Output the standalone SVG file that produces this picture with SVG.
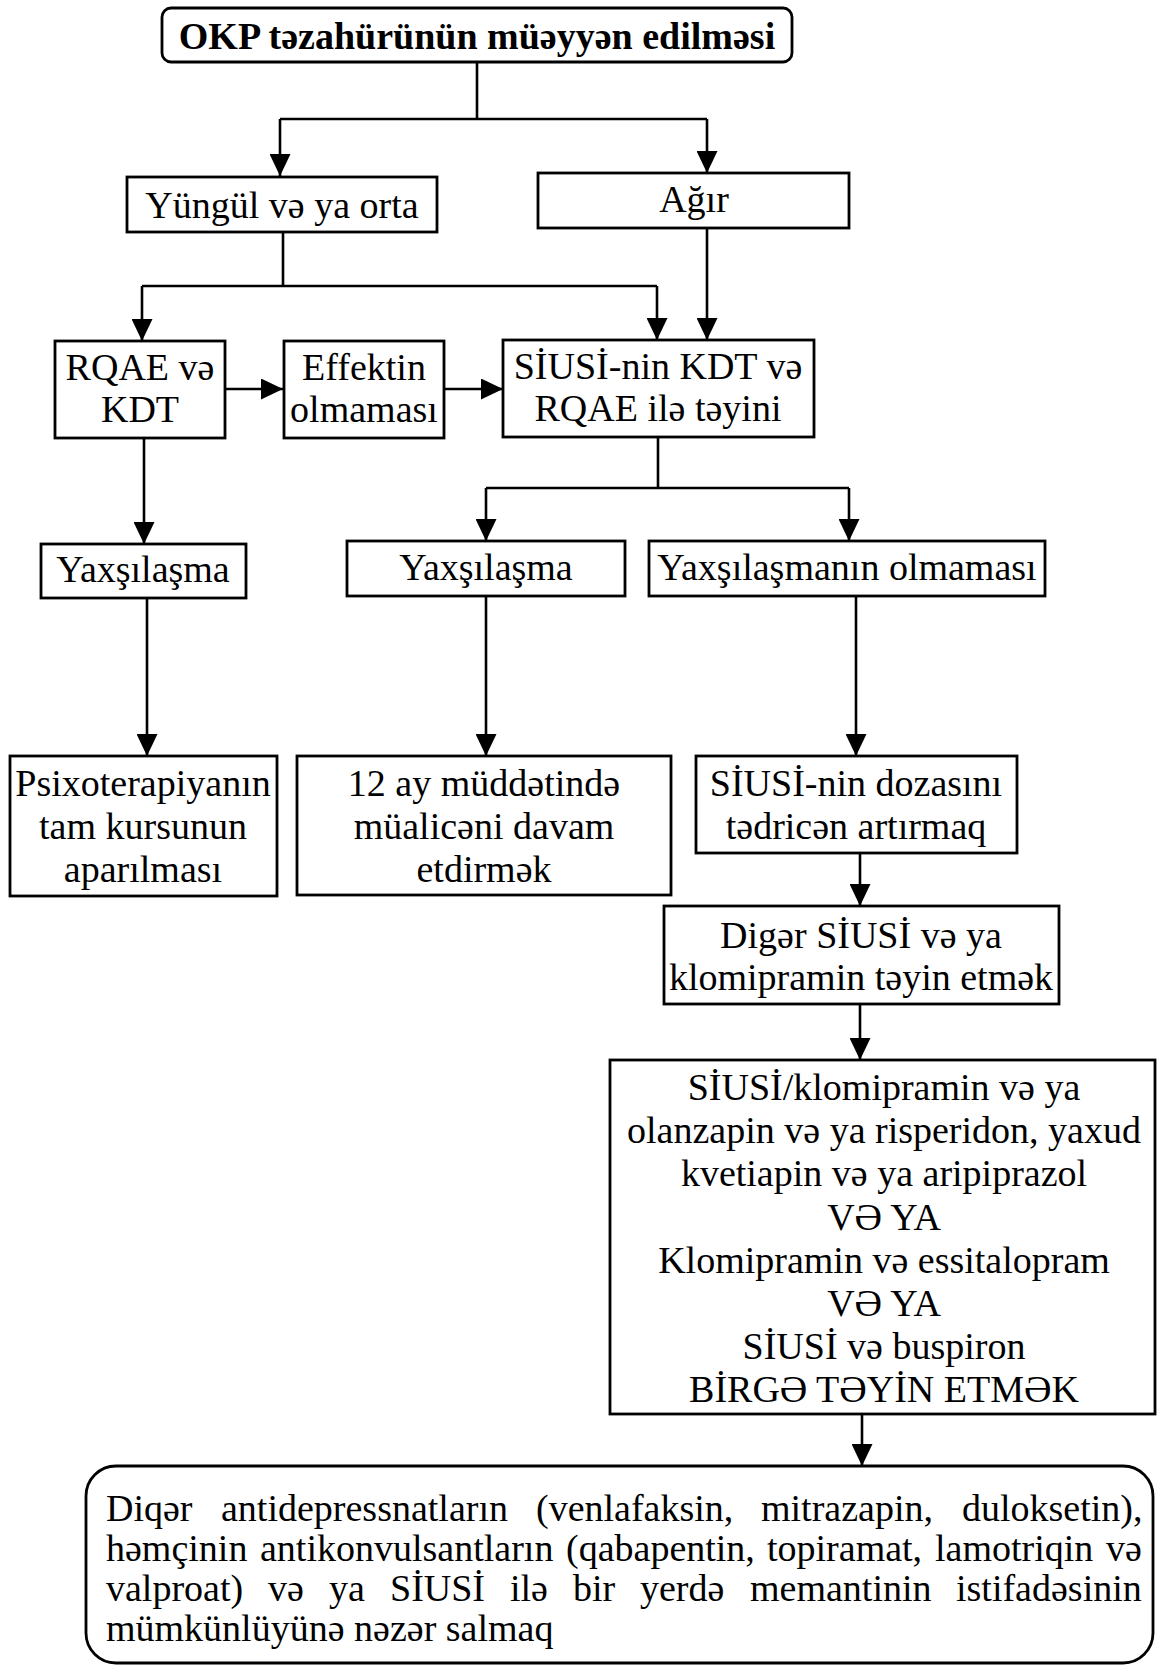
<svg xmlns="http://www.w3.org/2000/svg" width="1157" height="1666" viewBox="0 0 1157 1666">
<defs>
<style>
.box{fill:#fff;stroke:#000;stroke-width:2.8}
.t{font-family:'Liberation Serif','Times New Roman',serif;font-size:38px;fill:#000;text-anchor:middle}
.tb{font-weight:bold}
.tl{text-anchor:start}
.c{fill:none;stroke:#000;stroke-width:2.6}
</style>
<marker id="ah" markerUnits="userSpaceOnUse" markerWidth="22" markerHeight="21" refX="22" refY="10.5" viewBox="0 0 22 21" orient="auto">
<path d="M0,0 L22,10.5 L0,21 Z" fill="#000"/>
</marker>
</defs>
<rect width="1157" height="1666" fill="#fff"/>
<g id="connectors">
<path class="c" d="M477,62 V119 M280,119 H707"/>
<path class="c" d="M280,119 V176" marker-end="url(#ah)"/>
<path class="c" d="M707,119 V173" marker-end="url(#ah)"/>
<path class="c" d="M283,232 V286 M142,286 H657"/>
<path class="c" d="M142,286 V341" marker-end="url(#ah)"/>
<path class="c" d="M657,286 V340" marker-end="url(#ah)"/>
<path class="c" d="M707,228 V340" marker-end="url(#ah)"/>
<path class="c" d="M225,389 H283" marker-end="url(#ah)"/>
<path class="c" d="M444,389 H503" marker-end="url(#ah)"/>
<path class="c" d="M144,438 V544" marker-end="url(#ah)"/>
<path class="c" d="M658,437 V488 M486,488 H849"/>
<path class="c" d="M486,488 V541" marker-end="url(#ah)"/>
<path class="c" d="M849,488 V541" marker-end="url(#ah)"/>
<path class="c" d="M147,598 V756" marker-end="url(#ah)"/>
<path class="c" d="M486,596 V756" marker-end="url(#ah)"/>
<path class="c" d="M856,596 V756" marker-end="url(#ah)"/>
<path class="c" d="M860,853 V906" marker-end="url(#ah)"/>
<path class="c" d="M860,1004 V1060" marker-end="url(#ah)"/>
<path class="c" d="M862,1414 V1466" marker-end="url(#ah)"/>
</g>
<g id="n-top">
<rect class="box" x="162" y="8" width="630" height="54" rx="9"/>
<text class="t tb" x="477" y="49">OKP təzahürünün müəyyən edilməsi</text>
</g>
<g id="n-mild">
<rect class="box" x="127" y="177" width="310" height="55"/>
<text class="t" x="282" y="218">Yüngül və ya orta</text>
</g>
<g id="n-severe">
<rect class="box" x="538" y="173" width="311" height="55"/>
<text class="t" x="694" y="212">Ağır</text>
</g>
<g id="n-rqae">
<rect class="box" x="55" y="341" width="170" height="97"/>
<text class="t" x="140" y="380">RQAE və</text>
<text class="t" x="140" y="422">KDT</text>
</g>
<g id="n-noeffect">
<rect class="box" x="284" y="341" width="160" height="97"/>
<text class="t" x="364" y="380">Effektin</text>
<text class="t" x="364" y="422">olmaması</text>
</g>
<g id="n-siusi">
<rect class="box" x="503" y="340" width="311" height="97"/>
<text class="t" x="658" y="379">SİUSİ-nin KDT və</text>
<text class="t" x="658" y="421">RQAE ilə təyini</text>
</g>
<g id="n-improve1">
<rect class="box" x="41" y="544" width="205" height="54"/>
<text class="t" x="143" y="582">Yaxşılaşma</text>
</g>
<g id="n-improve2">
<rect class="box" x="347" y="541" width="278" height="55"/>
<text class="t" x="486" y="580">Yaxşılaşma</text>
</g>
<g id="n-noimprove">
<rect class="box" x="649" y="541" width="396" height="55"/>
<text class="t" x="847" y="580">Yaxşılaşmanın olmaması</text>
</g>
<g id="n-psycho">
<rect class="box" x="10" y="756" width="267" height="140"/>
<text class="t" x="143" y="796">Psixoterapiyanın</text>
<text class="t" x="143" y="839">tam kursunun</text>
<text class="t" x="143" y="882">aparılması</text>
</g>
<g id="n-continue">
<rect class="box" x="297" y="756" width="374" height="139"/>
<text class="t" x="484" y="796">12 ay müddətində</text>
<text class="t" x="484" y="839">müalicəni davam</text>
<text class="t" x="484" y="882">etdirmək</text>
</g>
<g id="n-dose">
<rect class="box" x="696" y="756" width="321" height="97"/>
<text class="t" x="856" y="796">SİUSİ-nin dozasını</text>
<text class="t" x="856" y="839">tədricən artırmaq</text>
</g>
<g id="n-other">
<rect class="box" x="664" y="906" width="395" height="98"/>
<text class="t" x="861" y="948">Digər SİUSİ və ya</text>
<text class="t" x="861" y="990">klomipramin təyin etmək</text>
</g>
<g id="n-combo">
<rect class="box" x="610" y="1060" width="545" height="354"/>
<text class="t" x="884" y="1100">SİUSİ/klomipramin və ya</text>
<text class="t" x="884" y="1143">olanzapin və ya risperidon, yaxud</text>
<text class="t" x="884" y="1186">kvetiapin və ya aripiprazol</text>
<text class="t" x="884" y="1230">VƏ YA</text>
<text class="t" x="884" y="1273">Klomipramin və essitalopram</text>
<text class="t" x="884" y="1316">VƏ YA</text>
<text class="t" x="884" y="1359">SİUSİ və buspiron</text>
<text class="t" x="884" y="1402">BİRGƏ TƏYİN ETMƏK</text>
</g>
<g id="n-final">
<rect class="box" x="86" y="1466" width="1067" height="197" rx="30"/>
<text class="t tl" y="1521"><tspan x="106">Diqər</tspan><tspan x="221">antidepressnatların</tspan><tspan x="536">(venlafaksin,</tspan><tspan x="761">mitrazapin,</tspan><tspan x="962">duloksetin),</tspan></text>
<text class="t tl" y="1561"><tspan x="106">həmçinin</tspan><tspan x="260">antikonvulsantların</tspan><tspan x="566">(qabapentin,</tspan><tspan x="767">topiramat,</tspan><tspan x="935">lamotriqin</tspan><tspan x="1106">və</tspan></text>
<text class="t tl" y="1601"><tspan x="106">valproat)</tspan><tspan x="268">və</tspan><tspan x="329">ya</tspan><tspan x="390">SİUSİ</tspan><tspan x="510">ilə</tspan><tspan x="573">bir</tspan><tspan x="640">yerdə</tspan><tspan x="750">memantinin</tspan><tspan x="956">istifadəsinin</tspan></text>
<text class="t tl" x="106" y="1641">mümkünlüyünə nəzər salmaq</text>
</g>
</svg>
